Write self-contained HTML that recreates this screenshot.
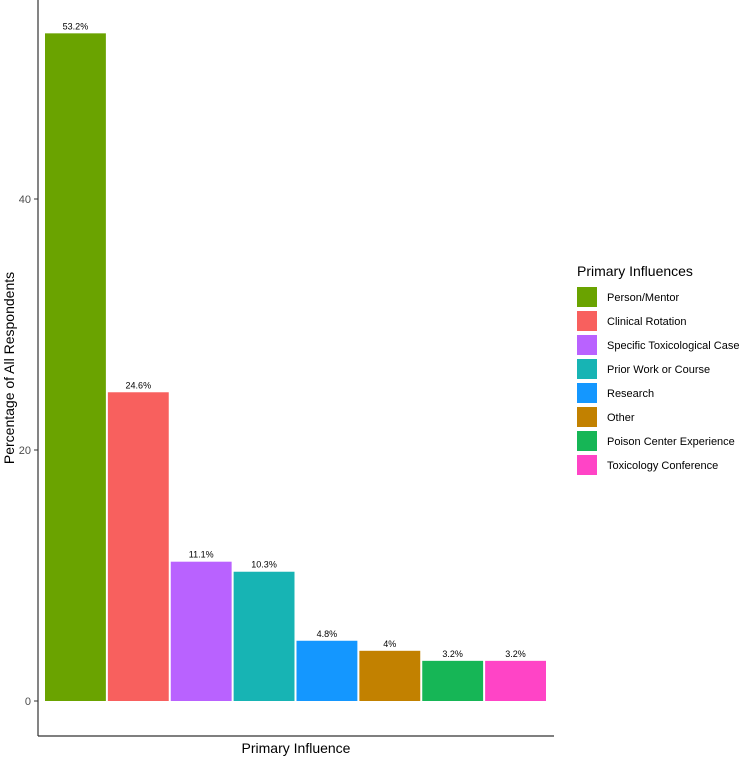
<!DOCTYPE html>
<html><head><meta charset="utf-8"><style>
body{margin:0;background:#fff;font-family:"Liberation Sans",sans-serif}
svg text{font-family:"Liberation Sans",sans-serif}
</style></head><body>
<svg width="749" height="757">
<g id="plot"></g>
<line x1="38" y1="0" x2="38" y2="736" stroke="#333" stroke-width="1.2"/>
<line x1="38" y1="736" x2="554" y2="736" stroke="#333" stroke-width="1.2"/>
<text x="296" y="753" font-size="14" text-anchor="middle" fill="#000">Primary Influence</text>
<text transform="translate(14,368) rotate(-90)" font-size="14" text-anchor="middle" fill="#000">Percentage of All Respondents</text>
<g id="legend">
<text x="577" y="276" font-size="14" fill="#000">Primary Influences</text>
</g>
</svg>
<script>
const categories=["Person/Mentor","Clinical Rotation","Specific Toxicological Case","Prior Work or Course","Research","Other","Poison Center Experience","Toxicology Conference"];
const values=[53.2,24.6,11.1,10.3,4.8,4.0,3.2,3.2];
const labels=["53.2%","24.6%","11.1%","10.3%","4.8%","4%","3.2%","3.2%"];
const colors=["#6aa300","#f8605e","#b962ff","#17b4b4","#1497ff","#c28100","#16b656","#ff44c6"];
const yTicks=[0,20,40];
const NS="http://www.w3.org/2000/svg";
const x0=44,x1=547,bw=(x1-x0)/categories.length;
const y=v=>701-v*12.55;
const plot=document.getElementById('plot');
function mk(t,a){const e=document.createElementNS(NS,t);for(const k in a)e.setAttribute(k,a[k]);return e;}
yTicks.forEach(t=>{
 const l=mk('line',{x1:34,x2:38,y1:y(t),y2:y(t),stroke:'#333'});
 
 
 plot.appendChild(l);
 const tx=mk('text',{x:31,y:y(t)+4,'font-size':11,'text-anchor':'end',fill:'#4d4d4d'});
 tx.textContent=t;
 
 
 plot.appendChild(tx);
});
values.forEach((v,i)=>{
 const r=mk('rect',{x:x0+i*bw+1,y:y(v),width:bw-2,height:y(0)-y(v),fill:colors[i]});
 
 
 plot.appendChild(r);
 const t=mk('text',{x:x0+i*bw+bw/2,y:y(v)-4,'font-size':9,'text-anchor':'middle',fill:'#000'});
 t.textContent=labels[i];
 
 
 plot.appendChild(t);
});
const lg=document.getElementById('legend');
categories.forEach((c,i)=>{
 const cy=297+i*24;
 const r=mk('rect',{x:577,y:cy-10,width:20,height:20,fill:colors[i]});
 
 
 lg.appendChild(r);
 const t=mk('text',{x:607,y:cy+4,'font-size':11,fill:'#000'});
 t.textContent=c;
 
 
 lg.appendChild(t);
});
</script>
</body></html>
